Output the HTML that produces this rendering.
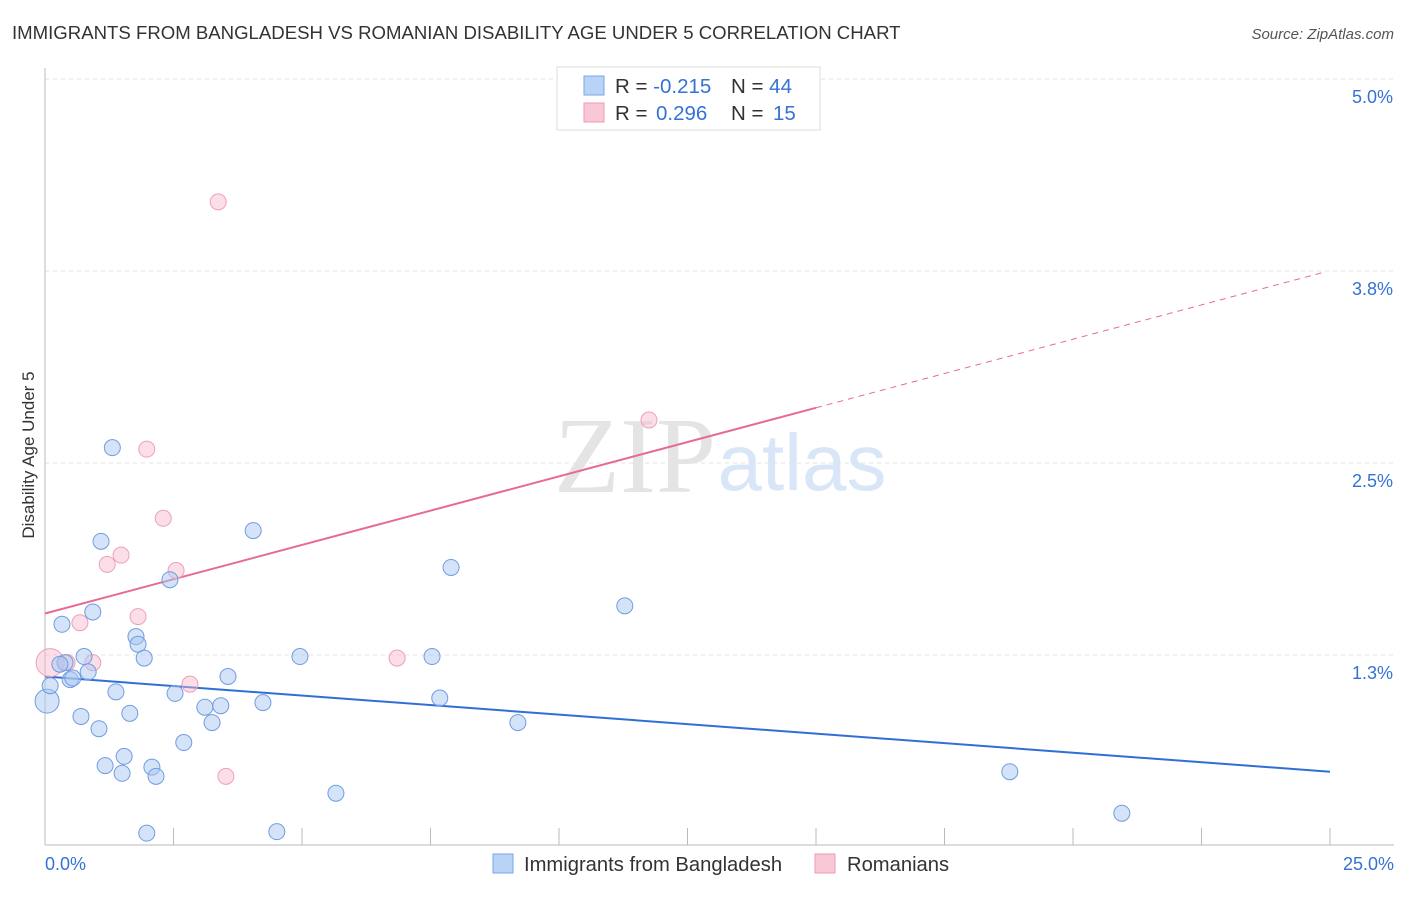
<!DOCTYPE html>
<html><head><meta charset="utf-8"><style>
body{margin:0;background:#fff;font-family:"Liberation Sans",sans-serif}
</style></head><body>
<svg id="c" width="1406" height="892" xmlns="http://www.w3.org/2000/svg" font-family="Liberation Sans, sans-serif">
<text x="12" y="39" font-size="18.6" fill="#333">IMMIGRANTS FROM BANGLADESH VS ROMANIAN DISABILITY AGE UNDER 5 CORRELATION CHART</text>
<text x="1394" y="39" font-size="15" fill="#555" font-style="italic" text-anchor="end">Source: ZipAtlas.com</text>
<text x="635" y="492" font-size="108" fill="#e4e4e4" font-family="Liberation Serif, serif" text-anchor="middle">ZIP</text>
<text x="802" y="490" font-size="80" fill="#d8e6f7" text-anchor="middle">atlas</text>
<text transform="translate(34,455) rotate(-90)" font-size="17" fill="#333" text-anchor="middle">Disability Age Under 5</text>
<g id="grid"></g><g id="ticks"></g><g id="lines"></g><g id="pts"></g>
<g>
<rect x="557" y="67" width="263" height="63" fill="#fff" stroke="#ddd"/>
<rect x="584" y="76" width="20" height="19" fill="#b9d3f6" stroke="#7aa6e6"/>
<rect x="584" y="103" width="20" height="19" fill="#f9c8d6" stroke="#ef9ab2"/>
<text x="615" y="93" font-size="20.5" fill="#333">R = <tspan fill="#3572d4">-0.215</tspan><tspan x="731">N = </tspan><tspan fill="#3572d4">44</tspan></text>
<text x="615" y="120" font-size="20.5" fill="#333">R = <tspan x="656" fill="#3572d4">0.296</tspan><tspan x="731">N = </tspan><tspan x="773" fill="#3572d4">15</tspan></text>
</g>
<g>
<rect x="493" y="854" width="20" height="19" fill="#b9d3f6" stroke="#7aa6e6"/>
<text x="524" y="871" font-size="20.2" fill="#333">Immigrants from Bangladesh</text>
<rect x="815" y="854" width="20" height="19" fill="#f9c8d6" stroke="#ef9ab2"/>
<text x="847" y="871" font-size="20.2" fill="#333">Romanians</text>
</g>
</svg>
<script>
const blueX=[0.04,0.10,0.33,0.39,0.49,0.54,0.76,0.84,0.93,0.70,1.05,1.09,1.17,1.31,1.38,1.50,1.54,1.65,1.77,1.81,1.93,1.98,2.08,2.16,2.43,2.53,2.70,3.11,3.25,3.42,3.56,4.05,4.24,4.51,4.96,5.66,7.53,7.68,7.90,9.20,11.28,18.77,20.95,0.29];
const blueY=[0.95,1.05,1.45,1.20,1.09,1.10,1.24,1.14,1.53,0.85,0.77,1.99,0.53,2.60,1.01,0.48,0.59,0.87,1.37,1.32,1.23,0.09,0.52,0.46,1.74,1.00,0.68,0.91,0.81,0.92,1.11,2.06,0.94,0.10,1.24,0.35,1.24,0.97,1.82,0.81,1.57,0.49,0.22,1.19];
const pinkX=[0.10,0.43,0.68,0.93,1.21,1.48,1.81,1.98,2.30,2.55,2.82,3.37,3.52,6.85,11.75];
const pinkY=[1.20,1.20,1.46,1.20,1.84,1.90,1.50,2.59,2.14,1.80,1.06,4.20,0.46,1.23,2.78];
const yTicks=[5.0,3.75,2.5,1.25];
const yTickLabels=["5.0%","3.8%","2.5%","1.3%"];
const blueTrend=[1.11,0.49];
const pinkTrend=[1.52,0.0893];
const NS="http://www.w3.org/2000/svg";
const X=v=>45+v*51.4, Y=v=>79+(5-v)*153.6;
function mk(t,a,p){const e=document.createElementNS(NS,t);for(const k in a)e.setAttribute(k,a[k]);document.getElementById(p).appendChild(e);return e;}
yTicks.forEach((t,i)=>{
 const g=mk('line',{x1:45,x2:1394,y1:Y(t),y2:Y(t),stroke:'#e3e3e3','stroke-dasharray':'4,4'},'grid');
 
 
 const l=mk('text',{x:1393,y:Y(t)+24,'font-size':18,fill:'#3572d4','text-anchor':'end'},'ticks');
 l.textContent=yTickLabels[i];
 
 
});
let ax=mk('line',{x1:45,x2:1394,y1:845,y2:845,stroke:'#bbb'},'ticks');


let ay=mk('line',{x1:45,x2:45,y1:68,y2:845,stroke:'#bbb'},'ticks');


for(let i=0;i<=10;i++){const t=mk('line',{x1:X(i*2.5),x2:X(i*2.5),y1:828,y2:845,stroke:'#bbb'},'ticks');
 
 }
const xl=[["0.0%",45,'start'],["25.0%",1394,'end']];
xl.forEach(a=>{const t=mk('text',{x:a[1],y:870,'font-size':18,fill:'#3572d4','text-anchor':a[2]},'ticks');t.textContent=a[0];
 
 });
let bl=mk('line',{x1:X(0),y1:Y(blueTrend[0]),x2:X(25),y2:Y(blueTrend[1]),stroke:'#2f6fd6','stroke-width':2},'lines');


let pl=mk('line',{x1:X(0),y1:Y(pinkTrend[0]),x2:X(15),y2:Y(pinkTrend[0]+15*pinkTrend[1]),stroke:'#e66b93','stroke-width':2},'lines');


let pd=mk('line',{x1:X(15),y1:Y(pinkTrend[0]+15*pinkTrend[1]),x2:X(24.9),y2:Y(pinkTrend[0]+24.9*pinkTrend[1]),stroke:'#e66b93','stroke-width':1,'stroke-dasharray':'6,5'},'lines');


pinkX.forEach((x,i)=>{const c=mk('circle',{cx:X(x),cy:Y(pinkY[i]),r:i==0?14:8,fill:'rgba(247,182,201,0.45)',stroke:'#eea0b8','stroke-width':1},'pts');
 
 });
blueX.forEach((x,i)=>{const c=mk('circle',{cx:X(x),cy:Y(blueY[i]),r:i==0?12:8,fill:'rgba(170,200,242,0.5)',stroke:'#6f9de0','stroke-width':1},'pts');
 
 });
</script>
</body></html>
